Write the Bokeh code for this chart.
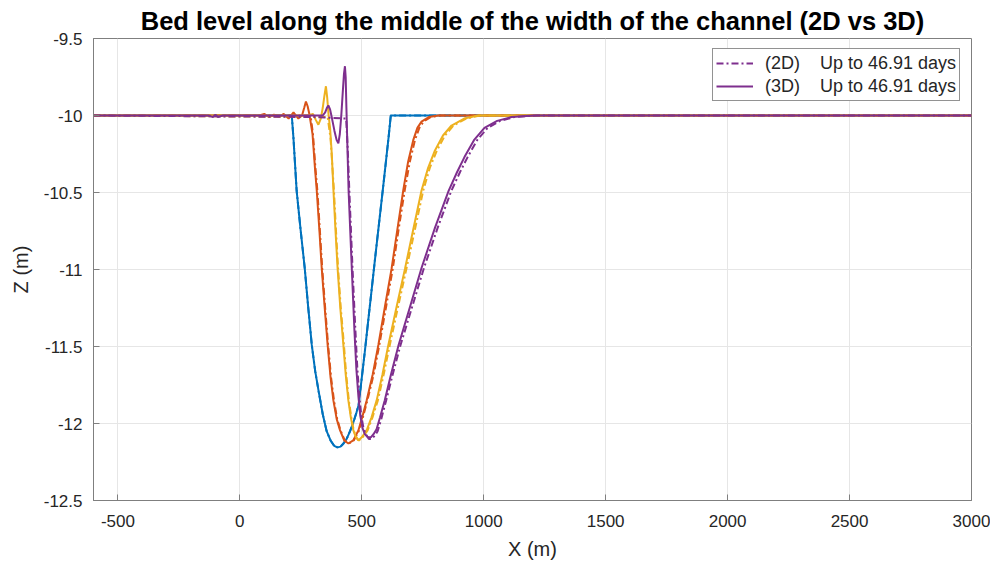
from bokeh.plotting import figure
from bokeh.models import Range1d, FixedTicker, Legend, LegendItem
from bokeh.embed import file_html
from bokeh.resources import INLINE

# ---------------- data ----------------
x_ticks = [-500, 0, 500, 1000, 1500, 2000, 2500, 3000]
x_tick_labels = ["-500", "0", "500", "1000", "1500", "2000", "2500", "3000"]
y_ticks = [-12.5, -12.0, -11.5, -11.0, -10.5, -10.0, -9.5]
y_tick_labels = ["-12.5", "-12", "-11.5", "-11", "-10.5", "-10", "-9.5"]

# initial bed (blue) - 2D and 3D coincide
blue_x = [-600, 213, 220, 233, 249, 266, 280, 295, 309, 323, 340, 356, 372, 387, 400, 413, 425, 438,
          452, 466, 478, 487, 512, 553, 590, 610, 619, 3000]
blue_z = [-10, -10, -10.15, -10.49, -10.74, -10.99, -11.24, -11.49, -11.66, -11.79, -11.94, -12.05, -12.11,
          -12.145, -12.155, -12.15, -12.13, -12.10, -12.05, -11.99, -11.93, -11.88, -11.54, -10.95, -10.43,
          -10.14, -10.0, -10]

# orange
orange3_x = [-600, 80, 100, 120, 140, 160, 180, 200, 220, 240, 255, 264, 271, 278, 285, 298, 308, 315.5,
             326, 336, 348, 360, 372, 383.6, 397, 411, 428, 445, 465, 486, 500, 520, 545, 568, 595, 622,
             646, 670, 690, 711, 728, 745, 775, 814, 3000]
orange3_z = [-10, -10, -9.99, -10.01, -9.995, -10.01, -9.99, -10.02, -9.98, -10.02, -10.0, -9.95, -9.91,
             -9.94, -9.99, -10.12, -10.34, -10.49, -10.74, -10.996, -11.25, -11.49, -11.70, -11.85, -11.97,
             -12.045, -12.11, -12.13, -12.11, -12.045, -11.97, -11.85, -11.68, -11.49, -11.24, -10.996,
             -10.74, -10.487, -10.30, -10.16, -10.08, -10.04, -10.01, -10, -10]
orange2_x = [-600, 290, 300, 310, 318, 328, 338, 350, 362, 374, 386, 399, 413, 430, 447, 467, 489, 503,
             523, 549, 572, 600, 627, 651, 676, 697, 718, 736, 753, 782, 822, 3000]
orange2_z = [-10, -10, -10.12, -10.34, -10.49, -10.74, -10.996, -11.25, -11.49, -11.70, -11.85, -11.97,
             -12.045, -12.11, -12.13, -12.11, -12.045, -11.97, -11.85, -11.68, -11.49, -11.24, -10.996,
             -10.74, -10.487, -10.30, -10.16, -10.08, -10.04, -10.01, -10, -10]

# yellow
yellow3_x = [-600, 280, 300, 312, 322, 332, 340, 347, 353, 358, 364, 370, 377, 384, 392, 401, 412,
             424.5, 434, 445, 455, 465.5, 476, 486, 500, 520, 540, 561, 585, 609, 643, 677, 711, 745,
             772, 800, 833, 868, 920, 977, 3000]
yellow3_z = [-10, -10, -9.99, -10.03, -10.06, -10.02, -9.95, -9.87, -9.81, -9.88, -10.0, -10.08, -10.25,
             -10.49, -10.74, -10.996, -11.25, -11.49, -11.68, -11.85, -11.96, -12.045, -12.09, -12.11,
             -12.09, -12.045, -11.96, -11.85, -11.68, -11.49, -11.24, -10.996, -10.74, -10.487, -10.34,
             -10.227, -10.13, -10.065, -10.02, -10, -10]
yellow2_x = [-600, 360, 372, 386, 394, 403, 414, 427, 436, 447, 457, 467, 478, 488, 503, 524, 544, 566,
             590, 615, 649, 683, 718, 752, 779, 808, 841, 876, 928, 985, 3000]
yellow2_z = [-10, -10.01, -10.15, -10.49, -10.74, -10.996, -11.25, -11.49, -11.68, -11.85, -11.96,
             -12.045, -12.09, -12.11, -12.09, -12.045, -11.96, -11.85, -11.68, -11.49, -11.24, -10.996,
             -10.74, -10.487, -10.34, -10.227, -10.13, -10.065, -10.02, -10, -10]

# purple
purple3_x = [-600, -130, -110, -100, -90, -70, 340, 350, 357, 363, 370, 378, 388, 397, 404, 410, 416,
             422, 427, 431, 434, 437, 441, 446, 459, 470, 478, 486, 494, 503, 513, 525, 537, 548, 560,
             575, 594, 620, 651, 700, 745, 800, 856, 890, 921, 960, 1003, 1055, 1114, 1208, 3000]
purple3_z = [-10, -10, -10.01, -9.995, -10.01, -10, -10, -9.98, -9.95, -9.935, -9.96, -10.02, -10.10,
             -10.16, -10.18, -10.12, -10.0, -9.85, -9.73, -9.68, -9.75, -9.95, -10.2, -10.49, -10.99,
             -11.40, -11.65, -11.82, -11.95, -12.03, -12.07, -12.09, -12.09, -12.07, -12.04, -11.96,
             -11.85, -11.68, -11.49, -11.23, -10.99, -10.73, -10.49, -10.37, -10.27, -10.16, -10.08,
             -10.035, -10.01, -10, -10]
purple2_x = [-600, 300, 436, 442, 449, 462, 474, 482, 490, 498, 507, 517, 529, 541, 553, 565, 580, 600,
             627, 659, 709, 755, 811, 867, 902, 934, 973, 1016, 1068, 1126, 1220, 3000]
purple2_z = [-10, -10.01, -10.02, -10.2, -10.49, -10.99, -11.40, -11.65, -11.82, -11.95, -12.03, -12.07,
             -12.10, -12.10, -12.08, -12.05, -11.97, -11.85, -11.68, -11.49, -11.23, -10.99, -10.73,
             -10.49, -10.37, -10.27, -10.16, -10.08, -10.035, -10.01, -10, -10]

legend_labels = ["(2D)\u00a0\u00a0\u00a0 Up to 46.91 days", "(3D)\u00a0\u00a0\u00a0 Up to 46.91 days"]

BLUE = "#0072BD"
ORANGE = "#D95319"
YELLOW = "#EDB120"
PURPLE = "#7E2F8E"
FONT = "Liberation Sans"
TXT = "#262626"

p = figure(width=990, height=562, output_backend="svg", toolbar_location=None,
           x_range=Range1d(-600, 3000), y_range=Range1d(-12.5, -9.5),
           min_border_left=93, min_border_right=19, min_border_top=38, min_border_bottom=57,
           title="Bed level along the middle of the width of the channel (2D vs 3D)")

p.title.text_font = FONT
p.title.text_font_size = "25.5px"
p.title.text_font_style = "bold"
p.title.text_color = "#000000"
p.title.align = "center"
p.title.standoff = 8

p.background_fill_color = "white"
p.border_fill_color = "white"
p.outline_line_color = "#7f7f7f"
p.outline_line_width = 1

for ax in (p.xaxis[0], p.yaxis[0]):
    ax.axis_line_color = "#7f7f7f"
    ax.major_tick_line_color = "#7f7f7f"
    ax.major_tick_in = 6
    ax.major_tick_out = 0
    ax.minor_tick_line_color = None
    ax.major_label_text_font = FONT
    ax.major_label_text_font_size = "17px"
    ax.major_label_text_color = TXT
    ax.axis_label_text_font = FONT
    ax.axis_label_text_font_size = "20px"
    ax.axis_label_text_font_style = "normal"
    ax.axis_label_text_color = TXT

p.xaxis.ticker = FixedTicker(ticks=x_ticks)
p.yaxis.ticker = FixedTicker(ticks=y_ticks)
p.xaxis.major_label_overrides = {t: l for t, l in zip(x_ticks, x_tick_labels)}
p.yaxis.major_label_overrides = {t: l for t, l in zip(y_ticks, y_tick_labels)}
p.xaxis.axis_label = "X (m)"
p.yaxis.axis_label = "Z (m)"
p.xaxis.major_label_standoff = 14
p.yaxis.major_label_standoff = 11
p.xaxis.axis_label_standoff = 8
p.yaxis.axis_label_standoff = 9

p.xgrid.ticker = FixedTicker(ticks=x_ticks)
p.ygrid.ticker = FixedTicker(ticks=y_ticks)
p.grid.grid_line_color = "#e6e6e6"
p.grid.grid_line_width = 1

LW = 2
DASH = "7 3 2 3"

p.line(blue_x, blue_z, color=BLUE, line_width=LW, line_dash=DASH)
p.line(blue_x, blue_z, color=BLUE, line_width=LW)
p.line(orange2_x, orange2_z, color=ORANGE, line_width=LW, line_dash=DASH)
p.line(orange3_x, orange3_z, color=ORANGE, line_width=LW)
p.line(yellow2_x, yellow2_z, color=YELLOW, line_width=LW, line_dash=DASH)
p.line(yellow3_x, yellow3_z, color=YELLOW, line_width=LW)
r2 = p.line(purple2_x, purple2_z, color=PURPLE, line_width=LW, line_dash=DASH)
r3 = p.line(purple3_x, purple3_z, color=PURPLE, line_width=LW)

legend = Legend(items=[LegendItem(label=legend_labels[0], renderers=[r2]),
                       LegendItem(label=legend_labels[1], renderers=[r3])],
                location=(619, 399))
legend.glyph_width = 37
legend.label_text_font = FONT
legend.label_text_font_size = "18px"
legend.label_text_color = TXT
legend.border_line_color = "#262626"
legend.border_line_width = 1
legend.padding = 3
legend.spacing = 1
legend.label_standoff = 12
legend.label_height = 22
legend.glyph_height = 22
legend.margin = 0
legend.background_fill_alpha = 1
p.add_layout(legend, "center")

open("out.html", "w").write(file_html(p, INLINE))
